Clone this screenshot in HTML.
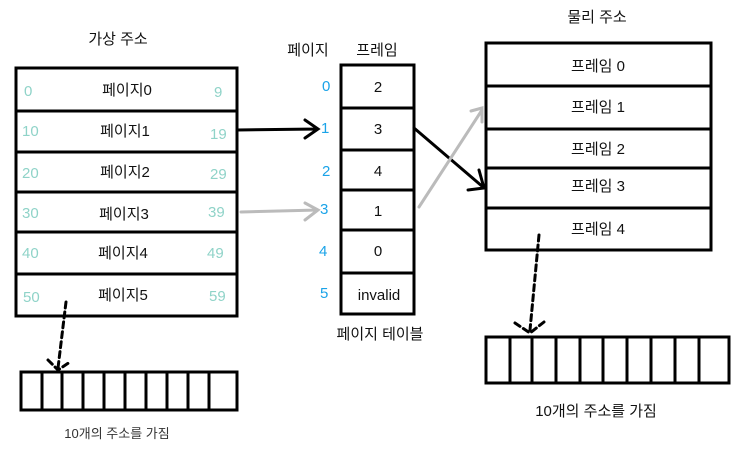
<!DOCTYPE html>
<html><head><meta charset="utf-8"><style>
body{margin:0;background:#fff;}
svg text{font-family:"Liberation Sans","Noto Sans CJK KR",sans-serif;}
</style></head><body>
<svg width="737" height="452" xmlns="http://www.w3.org/2000/svg">
<g fill="none" stroke="#000" stroke-width="3">
<rect x="16" y="68" width="221" height="248"/>
<line x1="16" y1="111" x2="237" y2="111"/><line x1="16" y1="152" x2="237" y2="152"/>
<line x1="16" y1="192" x2="237" y2="192"/><line x1="16" y1="232" x2="237" y2="232"/>
<line x1="16" y1="274" x2="237" y2="274"/>
<rect x="341" y="65" width="73" height="249"/>
<line x1="341" y1="108" x2="414" y2="108"/><line x1="341" y1="150" x2="414" y2="150"/>
<line x1="341" y1="190" x2="414" y2="190"/><line x1="341" y1="230" x2="414" y2="230"/>
<line x1="341" y1="273" x2="414" y2="273"/>
<rect x="486" y="43" width="225" height="207"/>
<line x1="486" y1="86" x2="711" y2="86"/><line x1="486" y1="129" x2="711" y2="129"/>
<line x1="486" y1="168" x2="711" y2="168"/><line x1="486" y1="208" x2="711" y2="208"/>
<rect x="21" y="372" width="216" height="38"/>
<rect x="486" y="337" width="243" height="46"/>
</g>
<g stroke="#000" stroke-width="3">
<line x1="42" y1="372" x2="42" y2="410"/><line x1="62" y1="372" x2="62" y2="410"/><line x1="83" y1="372" x2="83" y2="410"/><line x1="104" y1="372" x2="104" y2="410"/><line x1="125" y1="372" x2="125" y2="410"/><line x1="146" y1="372" x2="146" y2="410"/><line x1="167" y1="372" x2="167" y2="410"/><line x1="188" y1="372" x2="188" y2="410"/><line x1="209" y1="372" x2="209" y2="410"/>
<line x1="510" y1="337" x2="510" y2="383"/><line x1="532" y1="337" x2="532" y2="383"/><line x1="556" y1="337" x2="556" y2="383"/><line x1="580" y1="337" x2="580" y2="383"/><line x1="603" y1="337" x2="603" y2="383"/><line x1="627" y1="337" x2="627" y2="383"/><line x1="651" y1="337" x2="651" y2="383"/><line x1="675" y1="337" x2="675" y2="383"/><line x1="699" y1="337" x2="699" y2="383"/>
</g>
<g fill="none" stroke-linecap="round">
<path d="M237 130 L318 129 M305 120 L318 129 L305 138" stroke="#000" stroke-width="3"/>
<path d="M241 212 L318 210 M305 203 L318 210 L305 220" stroke="#bbb" stroke-width="3"/>
<path d="M414 128 L483 187 M479 170 L484 188 L468 190" stroke="#000" stroke-width="3"/>
<path d="M419 207 L482 110 M471 111 L482 108 L482 122" stroke="#bbb" stroke-width="3"/>
<path d="M66 302 L58 368 M48 360 L58 370 L70 362" stroke="#000" stroke-width="3" stroke-dasharray="6,4"/>
<path d="M539 235 L530 330 M515 323 L530 333 L544 322" stroke="#000" stroke-width="3" stroke-dasharray="6,4"/>
</g>
<g font-size="15" fill="#8fd3c8">
<text x="24" y="96">0</text><text x="214" y="97">9</text>
<text x="22" y="136">10</text><text x="210" y="139">19</text>
<text x="22" y="178">20</text><text x="210" y="179">29</text>
<text x="22" y="218">30</text><text x="208" y="217">39</text>
<text x="22" y="258">40</text><text x="207" y="258">49</text>
<text x="23" y="302">50</text><text x="209" y="301">59</text>
</g>
<g font-size="15" fill="#1aa3e8">
<text x="322" y="91">0</text><text x="321" y="133">1</text><text x="322" y="176">2</text><text x="320" y="214">3</text><text x="319" y="256">4</text><text x="320" y="298">5</text>
</g>
<g font-size="15" fill="#111" text-anchor="middle">
<text x="127" y="95">페이지0</text><text x="125" y="136">페이지1</text><text x="125" y="177">페이지2</text><text x="124" y="219">페이지3</text><text x="123" y="258">페이지4</text><text x="123" y="300">페이지5</text>
<text x="378" y="92">2</text><text x="378" y="134">3</text><text x="378" y="176">4</text><text x="378" y="216">1</text><text x="378" y="256">0</text><text x="379" y="300">invalid</text>
<text x="598" y="71">프레임 0</text><text x="598" y="112">프레임 1</text><text x="598" y="154">프레임 2</text><text x="598" y="191">프레임 3</text><text x="598" y="234">프레임 4</text>
<text x="118" y="44">가상 주소</text><text x="597" y="22">물리 주소</text>
<text x="308" y="55">페이지</text><text x="377" y="55">프레임</text>
<text x="380" y="339">페이지 테이블</text>
<text x="596" y="416">10개의 주소를 가짐</text>
<text x="117" y="438" font-size="13" fill="#333">10개의 주소를 가짐</text>
</g>
</svg>
</body></html>
